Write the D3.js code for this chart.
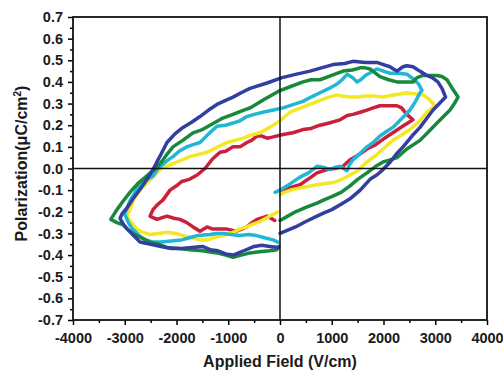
<!DOCTYPE html>
<html>
<head>
<meta charset="utf-8">
<script src="https://cdn.jsdelivr.net/npm/d3@7"></script>
<style>
  body { margin: 0; background: #fff; }
  svg text { font-family: "Liberation Sans", Arial, sans-serif; font-weight: bold; fill: #1a1a1a; }
</style>
</head>
<body>
<svg id="chart"></svg>
<script>
// hysteresis loops, [field V/cm, polarization uC/cm2]
var redLoop = [[30,-0.10],[386,-0.075],[600,-0.04],[715,-0.02],[908,-0.005],[1050,0.0],[1218,0.01],[1353,0.04],[1500,0.06],[1680,0.09],[1850,0.11],[1990,0.135],[2180,0.165],[2400,0.20],[2570,0.225],[2450,0.25],[2350,0.28],[2260,0.29],[2100,0.29],[1932,0.29],[1800,0.28],[1680,0.27],[1550,0.26],[1410,0.25],[1300,0.245],[1160,0.225],[950,0.21],[773,0.20],[600,0.185],[445,0.18],[250,0.165],[58,0.157],[-150,0.145],[-250,0.14],[-350,0.15],[-445,0.15],[-550,0.13],[-640,0.12],[-773,0.10],[-908,0.10],[-1050,0.08],[-1160,0.075],[-1300,0.045],[-1450,0.0],[-1600,-0.03],[-1750,-0.05],[-1900,-0.06],[-2000,-0.08],[-2125,-0.10],[-2260,-0.145],[-2380,-0.17],[-2454,-0.19],[-2512,-0.22],[-2380,-0.235],[-2184,-0.22],[-2050,-0.23],[-1932,-0.235],[-1800,-0.25],[-1680,-0.27],[-1546,-0.29],[-1410,-0.27],[-1300,-0.28],[-1218,-0.28],[-1024,-0.28],[-850,-0.29],[-740,-0.28],[-640,-0.27],[-540,-0.25],[-445,-0.235],[-250,-0.22],[-100,-0.24]];

var yellowLoop = [[0,-0.12],[200,-0.10],[386,-0.09],[715,-0.075],[1024,-0.065],[1200,-0.05],[1353,-0.03],[1500,-0.01],[1680,0.03],[1850,0.06],[1990,0.09],[2180,0.13],[2350,0.155],[2512,0.18],[2700,0.22],[2840,0.26],[2995,0.29],[2880,0.32],[2763,0.34],[2600,0.345],[2454,0.35],[2200,0.34],[1990,0.33],[1800,0.335],[1680,0.335],[1500,0.33],[1353,0.33],[1200,0.335],[1100,0.34],[950,0.33],[830,0.32],[680,0.305],[520,0.29],[350,0.275],[193,0.26],[0,0.22],[-200,0.19],[-386,0.165],[-550,0.155],[-715,0.14],[-870,0.13],[-1024,0.12],[-1200,0.10],[-1410,0.075],[-1580,0.065],[-1740,0.055],[-1990,0.03],[-2150,0.015],[-2300,0.0],[-2500,-0.05],[-2705,-0.10],[-2820,-0.14],[-2900,-0.19],[-2960,-0.22],[-2870,-0.25],[-2770,-0.28],[-2650,-0.295],[-2512,-0.305],[-2350,-0.30],[-2184,-0.295],[-2020,-0.30],[-1874,-0.31],[-1700,-0.32],[-1546,-0.33],[-1400,-0.33],[-1295,-0.32],[-1100,-0.31],[-908,-0.295],[-780,-0.28],[-640,-0.27],[-500,-0.255],[-386,-0.245],[-193,-0.22],[-40,-0.20]];

var cyanLoop = [[-97,-0.11],[0,-0.10],[200,-0.07],[386,-0.04],[550,-0.02],[715,0.01],[850,0.005],[966,-0.005],[1060,0.005],[1160,0.01],[1230,0.0],[1295,-0.01],[1350,0.02],[1410,0.04],[1550,0.07],[1680,0.10],[1800,0.12],[1932,0.15],[2050,0.17],[2180,0.19],[2350,0.23],[2512,0.27],[2620,0.31],[2705,0.35],[2744,0.36],[2680,0.39],[2600,0.41],[2454,0.435],[2300,0.44],[2125,0.44],[2000,0.45],[1870,0.46],[1760,0.445],[1650,0.43],[1560,0.41],[1488,0.40],[1400,0.42],[1295,0.435],[1200,0.41],[1100,0.39],[950,0.37],[773,0.35],[600,0.33],[445,0.31],[250,0.295],[58,0.28],[-130,0.27],[-330,0.26],[-500,0.25],[-640,0.24],[-780,0.22],[-908,0.21],[-1050,0.20],[-1218,0.195],[-1380,0.16],[-1546,0.12],[-1680,0.11],[-1800,0.10],[-1950,0.08],[-2068,0.055],[-2160,0.04],[-2260,0.02],[-2360,0.0],[-2454,-0.035],[-2580,-0.05],[-2705,-0.07],[-2800,-0.11],[-2900,-0.15],[-3000,-0.21],[-2930,-0.25],[-2850,-0.28],[-2720,-0.31],[-2600,-0.33],[-2450,-0.34],[-2300,-0.34],[-2100,-0.335],[-1900,-0.33],[-1750,-0.32],[-1600,-0.31],[-1353,-0.305],[-1230,-0.30],[-1100,-0.30],[-950,-0.305],[-773,-0.31],[-600,-0.305],[-450,-0.31],[-300,-0.32],[-135,-0.33],[-40,-0.34]];

var greenLoop = [[0,-0.24],[150,-0.22],[300,-0.20],[500,-0.18],[715,-0.16],[850,-0.145],[1000,-0.13],[1180,-0.11],[1353,-0.08],[1500,-0.05],[1680,-0.02],[1850,0.01],[1990,0.03],[2130,0.04],[2260,0.05],[2450,0.09],[2705,0.13],[2870,0.17],[3034,0.21],[3160,0.24],[3285,0.27],[3370,0.30],[3440,0.33],[3330,0.37],[3227,0.41],[3130,0.425],[3034,0.43],[2900,0.43],[2763,0.43],[2650,0.42],[2570,0.40],[2400,0.40],[2260,0.40],[2100,0.41],[1932,0.425],[1850,0.44],[1740,0.46],[1650,0.465],[1546,0.465],[1400,0.455],[1217,0.45],[1000,0.43],[773,0.41],[600,0.41],[445,0.40],[220,0.38],[0,0.36],[-300,0.32],[-580,0.28],[-750,0.265],[-908,0.25],[-1130,0.23],[-1353,0.20],[-1500,0.18],[-1681,0.165],[-1880,0.13],[-2068,0.10],[-2170,0.07],[-2260,0.04],[-2360,0.01],[-2454,-0.01],[-2600,-0.04],[-2750,-0.07],[-2900,-0.11],[-3030,-0.15],[-3150,-0.19],[-3270,-0.235],[-3150,-0.25],[-3030,-0.26],[-2950,-0.28],[-2840,-0.30],[-2680,-0.32],[-2510,-0.34],[-2350,-0.35],[-2184,-0.365],[-1950,-0.37],[-1740,-0.375],[-1500,-0.38],[-1218,-0.39],[-1050,-0.40],[-908,-0.41],[-750,-0.40],[-580,-0.39],[-400,-0.385],[-200,-0.38],[-60,-0.375],[-20,-0.36]];

var blueLoop = [[0,-0.30],[150,-0.285],[300,-0.27],[500,-0.245],[715,-0.22],[850,-0.205],[1000,-0.19],[1180,-0.165],[1353,-0.14],[1550,-0.10],[1739,-0.05],[1870,-0.03],[1990,-0.005],[2130,0.03],[2260,0.07],[2377,0.10],[2550,0.15],[2705,0.19],[2830,0.23],[2957,0.27],[3080,0.30],[3200,0.33],[3130,0.37],[3050,0.40],[2940,0.42],[2840,0.43],[2700,0.45],[2570,0.47],[2450,0.475],[2377,0.47],[2260,0.45],[2190,0.46],[2125,0.47],[2000,0.48],[1870,0.49],[1650,0.49],[1410,0.495],[1250,0.485],[1024,0.48],[800,0.465],[580,0.45],[300,0.435],[40,0.42],[-250,0.395],[-580,0.37],[-750,0.35],[-908,0.33],[-1050,0.315],[-1218,0.296],[-1380,0.27],[-1546,0.24],[-1700,0.215],[-1874,0.19],[-2030,0.16],[-2184,0.12],[-2270,0.08],[-2357,0.04],[-2454,-0.005],[-2570,-0.05],[-2700,-0.095],[-2841,-0.14],[-2950,-0.18],[-3053,-0.21],[-3090,-0.23],[-3020,-0.26],[-2950,-0.28],[-2830,-0.31],[-2705,-0.34],[-2500,-0.35],[-2300,-0.36],[-2100,-0.37],[-1900,-0.37],[-1700,-0.365],[-1500,-0.36],[-1350,-0.375],[-1200,-0.38],[-1050,-0.395],[-900,-0.40],[-800,-0.39],[-700,-0.38],[-600,-0.37],[-500,-0.36],[-350,-0.355],[-200,-0.36],[-30,-0.365]];

var xTicks = [-4000, -3000, -2000, -1000, 0, 1000, 2000, 3000, 4000];
var yTicks = [-0.7, -0.6, -0.5, -0.4, -0.3, -0.2, -0.1, 0.0, 0.1, 0.2, 0.3, 0.4, 0.5, 0.6, 0.7];

var seriesList = [
    { name: "red", data: redLoop, color: "#cc1f3c" },
    { name: "yellow", data: yellowLoop, color: "#f4e826" },
    { name: "cyan", data: cyanLoop, color: "#22b6d6" },
    { name: "green", data: greenLoop, color: "#17893a" },
    { name: "blue", data: blueLoop, color: "#323f9f" }
];

var width = 503, height = 371;
var margin = { top: 17, right: 16, bottom: 51, left: 73 };
var w = width - margin.left - margin.right;
var h = height - margin.top - margin.bottom;

var svg = d3.select("#chart")
    .attr("width", width)
    .attr("height", height);

var g = svg.append("g")
    .attr("transform", "translate(" + margin.left + "," + margin.top + ")");

var x = d3.scaleLinear().domain([-4000, 4000]).range([0, w]);
var y = d3.scaleLinear().domain([-0.7, 0.7]).range([h, 0]);

// minor ticks (halfway between labels)
var xMinor = d3.range(-3500, 4000, 1000);
var yMinor = d3.range(-13, 14, 2).map(function (d) { return d * 0.05; });

g.append("g")
    .attr("transform", "translate(0," + h + ")")
    .call(d3.axisBottom(x).tickValues(xMinor).tickSize(3).tickFormat(""))
    .call(function (s) { s.select(".domain").remove(); })
    .selectAll("line").attr("stroke-width", 1.5);

g.append("g")
    .call(d3.axisLeft(y).tickValues(yMinor).tickSize(3).tickFormat(""))
    .call(function (s) { s.select(".domain").remove(); })
    .selectAll("line").attr("stroke-width", 1.5);

var xAxis = g.append("g")
    .attr("transform", "translate(0," + h + ")")
    .call(d3.axisBottom(x).tickValues(xTicks).tickSize(5).tickPadding(8)
        .tickFormat(function (d) { return String(d); }));
xAxis.select(".domain").remove();
xAxis.selectAll("line").attr("stroke-width", 1.5);
xAxis.selectAll("text").style("font-size", "14.5px");

var yAxis = g.append("g")
    .call(d3.axisLeft(y).tickValues(yTicks).tickSize(5).tickPadding(5)
        .tickFormat(function (d) { return d.toFixed(1); }));
yAxis.select(".domain").remove();
yAxis.selectAll("line").attr("stroke-width", 1.5);
yAxis.selectAll("text").style("font-size", "14.5px");

// loops
var line = d3.line()
    .x(function (d) { return x(d[0]); })
    .y(function (d) { return y(d[1]); });

g.selectAll("path.loop")
    .data(seriesList)
    .enter().append("path")
    .attr("class", "loop")
    .attr("d", function (d) { return line(d.data); })
    .attr("fill", "none")
    .attr("stroke", function (d) { return d.color; })
    .attr("stroke-width", 3.5)
    .attr("stroke-linejoin", "round")
    .attr("stroke-linecap", "round");

// zero lines
g.append("line")
    .attr("x1", 0).attr("x2", w)
    .attr("y1", y(0)).attr("y2", y(0))
    .attr("stroke", "#111").attr("stroke-width", 1.5);
g.append("line")
    .attr("x1", x(0)).attr("x2", x(0))
    .attr("y1", 0).attr("y2", h)
    .attr("stroke", "#111").attr("stroke-width", 1.5);

// frame
g.append("rect")
    .attr("width", w).attr("height", h)
    .attr("fill", "none")
    .attr("stroke", "#111")
    .attr("stroke-width", 1.8);

// axis titles
svg.append("text")
    .attr("x", margin.left + x(0))
    .attr("y", 367)
    .attr("text-anchor", "middle")
    .style("font-size", "16px")
    .text("Applied Field (V/cm)");

var yTitle = svg.append("text")
    .attr("transform", "translate(27," + (margin.top + y(0) - 5) + ") rotate(-90)")
    .attr("text-anchor", "middle")
    .style("font-size", "16px");
yTitle.append("tspan").text("Polarization(\u03BCC/cm");
yTitle.append("tspan").attr("dy", "-6").style("font-size", "10px").text("2");
yTitle.append("tspan").attr("dy", "6").text(")");
</script>
</body>
</html>
